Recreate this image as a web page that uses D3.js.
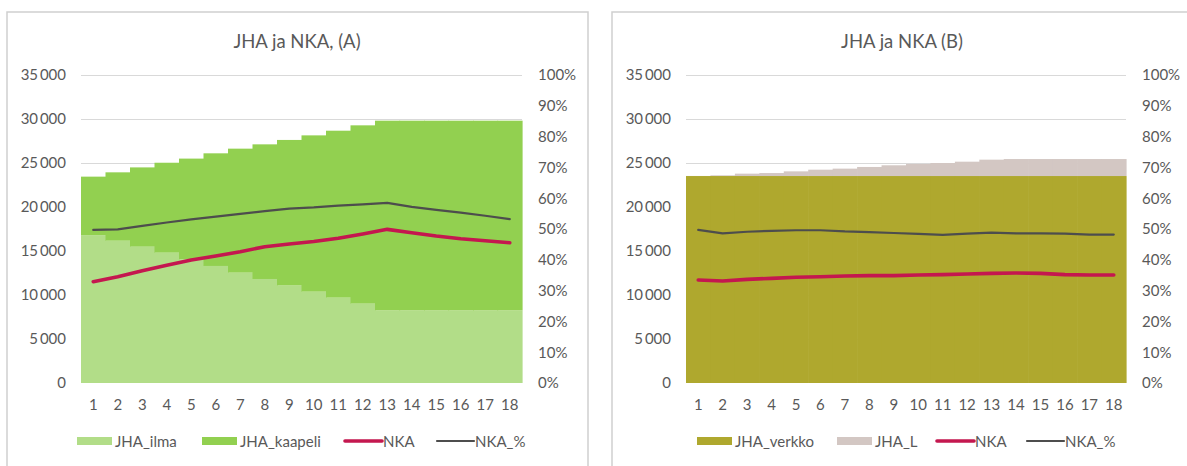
<!DOCTYPE html>
<html>
<head>
<meta charset="utf-8">
<script src="https://cdn.jsdelivr.net/npm/d3@7/dist/d3.min.js"></script>
<style>
  html, body { margin: 0; padding: 0; background: #fff; }
  svg { display: block; }
  text { font-family: Lato, "Open Sans", sans-serif; fill: #595959; }
</style>
</head>
<body>
<svg id="chart" width="1187" height="466"></svg>
<script>
// ---------- data ----------
const categories = ["1","2","3","4","5","6","7","8","9","10","11","12","13","14","15","16","17","18"];

// Chart A
const jhaIlma    = [16800,16170,15490,14810,14050,13300,12540,11820,11080,10380,9700,9020,8260,8260,8260,8260,8260,8260];
const jhaTotalA  = [23450,23940,24500,25030,25500,26100,26630,27120,27620,28140,28670,29280,29810,29810,29810,29810,29810,29810];
const jhaKaapeli = jhaTotalA.map((t, i) => t - jhaIlma[i]);
const nkaA       = [11510,12080,12760,13370,13980,14430,14920,15490,15800,16080,16440,16930,17460,17080,16700,16400,16170,15940];
const nkaPctA    = [49.7,49.9,51.0,52.1,53.1,54.0,54.9,55.8,56.6,57.0,57.6,58.0,58.5,57.2,56.2,55.3,54.3,53.2];

// Chart B
const jhaVerkko  = [23520,23520,23520,23520,23520,23520,23520,23520,23520,23520,23520,23520,23520,23520,23520,23520,23520,23520];
const jhaTotalB  = [23530,23600,23790,23860,24050,24240,24360,24550,24740,24890,25000,25150,25380,25450,25450,25450,25450,25450];
const jhaL       = jhaTotalB.map((t, i) => t - jhaVerkko[i]);
const nkaB       = [11700,11590,11780,11890,12010,12080,12160,12200,12200,12270,12310,12390,12460,12500,12460,12310,12270,12270];
const nkaPctB    = [49.7,48.6,49.1,49.4,49.6,49.6,49.2,49.0,48.7,48.4,48.1,48.5,48.8,48.6,48.6,48.5,48.2,48.2];

const leftTicks  = [0,5000,10000,15000,20000,25000,30000,35000];
const rightTicks = [0,10,20,30,40,50,60,70,80,90,100];

const colors = {
  ilma: "#b2dd88", kaapeli: "#92d050", verkko: "#afa82e", jhal: "#d3c7c3",
  nka: "#c4174f", pct: "#4d4d4d", grid: "#d9d9d9", border: "#cfcfcf"
};

const fmtThousands = v => v === 0 ? "0" : d3.format(",")(v).replace(/,/g, "\u2009");

// ---------- drawing ----------
const svg = d3.select("#chart");
const FS = "15px";

function drawPanel(cfg) {
  const g = svg.append("g");
  // panel border
  g.append("rect")
    .attr("x", cfg.panel[0]).attr("y", cfg.panel[1])
    .attr("width", cfg.panel[2]).attr("height", cfg.panel[3])
    .attr("fill", "#fff").attr("stroke", colors.border).attr("stroke-width", 1.5);

  const x = d3.scaleBand().domain(categories).range([cfg.plot.left, cfg.plot.right]).padding(0);
  const y = d3.scaleLinear().domain([0, 35000]).range([cfg.plot.bottom, cfg.plot.top]);
  const y2 = d3.scaleLinear().domain([0, 100]).range([cfg.plot.bottom, cfg.plot.top]);

  // title
  g.append("text")
    .attr("x", cfg.titleX).attr("y", 48)
    .attr("text-anchor", "middle")
    .style("font-size", "18.5px")
    .text(cfg.title);

  // gridlines
  g.append("g").selectAll("line").data(leftTicks.filter(t => t > 0)).join("line")
    .attr("x1", cfg.plot.left).attr("x2", cfg.plot.right)
    .attr("y1", d => y(d) + 0.5).attr("y2", d => y(d) + 0.5)
    .attr("stroke", colors.grid).attr("stroke-width", 1);

  // stacked columns (no gap)
  const stack = g.append("g");
  cfg.bars.forEach(b => {
    stack.append("g").selectAll("rect").data(categories).join("rect")
      .attr("x", d => x(d))
      .attr("width", x.bandwidth() + 0.6)
      .attr("y", (d, i) => y(b.base[i] + b.values[i]))
      .attr("height", (d, i) => y(b.base[i]) - y(b.base[i] + b.values[i]))
      .attr("fill", b.color);
  });

  const styleTicks = sel => sel.selectAll("text")
    .style("font-size", FS).style("fill", "#595959").style("font-family", "Lato, sans-serif");

  // left axis
  const ax = d3.axisLeft(y).tickValues(leftTicks).tickFormat(fmtThousands).tickSize(0).tickPadding(15);
  const axG = g.append("g").attr("transform", `translate(${cfg.plot.left},0)`).call(ax);
  axG.select(".domain").remove();
  styleTicks(axG);

  // right axis
  const ax2 = d3.axisRight(y2).tickValues(rightTicks).tickFormat(d => d + "%").tickSize(0).tickPadding(16);
  const ax2G = g.append("g").attr("transform", `translate(${cfg.plot.right},0)`).call(ax2);
  ax2G.select(".domain").remove();
  styleTicks(ax2G);

  // bottom axis
  const axB = d3.axisBottom(x).tickSize(0).tickPadding(16);
  const axBG = g.append("g").attr("transform", `translate(0,${cfg.plot.bottom})`).call(axB);
  axBG.select(".domain").remove();
  styleTicks(axBG);

  // lines
  const cx = d => x(d) + x.bandwidth() / 2;
  const lineN = d3.line().x((d, i) => cx(categories[i])).y(d => y(d));
  const lineP = d3.line().x((d, i) => cx(categories[i])).y(d => y2(d));
  g.append("path").attr("d", lineP(cfg.pct)).attr("fill", "none")
    .attr("stroke", colors.pct).attr("stroke-width", 2.2).attr("stroke-linejoin", "round").attr("stroke-linecap", "round");
  g.append("path").attr("d", lineN(cfg.nka)).attr("fill", "none")
    .attr("stroke", colors.nka).attr("stroke-width", 3.6).attr("stroke-linejoin", "round").attr("stroke-linecap", "round");

  // legend
  const lg = g.append("g");
  cfg.legend.forEach(item => {
    if (item.type === "rect") {
      lg.append("rect").attr("x", item.x).attr("y", 437).attr("width", 35).attr("height", 8).attr("fill", item.color);
    } else {
      lg.append("line").attr("x1", item.x).attr("x2", item.x + 37).attr("y1", 441).attr("y2", 441)
        .attr("stroke", item.color).attr("stroke-width", item.w).attr("stroke-linecap", "round");
    }
    lg.append("text").attr("x", item.x + 38).attr("y", 446.5)
      .style("font-size", FS).text(item.label);
  });
}

drawPanel({
  panel: [7, 12, 581, 470],
  plot: { left: 81, right: 522, top: 75, bottom: 383 },
  title: "JHA ja NKA, (A)", titleX: 297,
  bars: [
    { values: jhaIlma, base: jhaIlma.map(() => 0), color: colors.ilma },
    { values: jhaKaapeli, base: jhaIlma, color: colors.kaapeli }
  ],
  nka: nkaA, pct: nkaPctA,
  legend: [
    { type: "rect", x: 77, color: colors.ilma, label: "JHA_ilma" },
    { type: "rect", x: 202, color: colors.kaapeli, label: "JHA_kaapeli" },
    { type: "line", x: 345, color: colors.nka, w: 3.6, label: "NKA" },
    { type: "line", x: 437, color: colors.pct, w: 2.2, label: "NKA_%" }
  ]
});

drawPanel({
  panel: [612, 12, 590, 470],
  plot: { left: 686, right: 1126, top: 75, bottom: 383 },
  title: "JHA ja NKA (B)", titleX: 902,
  bars: [
    { values: jhaVerkko, base: jhaVerkko.map(() => 0), color: colors.verkko },
    { values: jhaL, base: jhaVerkko, color: colors.jhal }
  ],
  nka: nkaB, pct: nkaPctB,
  legend: [
    { type: "rect", x: 697, color: colors.verkko, label: "JHA_verkko" },
    { type: "rect", x: 837, color: colors.jhal, label: "JHA_L" },
    { type: "line", x: 937, color: colors.nka, w: 3.6, label: "NKA" },
    { type: "line", x: 1027, color: colors.pct, w: 2.2, label: "NKA_%" }
  ]
});
</script>
</body>
</html>
